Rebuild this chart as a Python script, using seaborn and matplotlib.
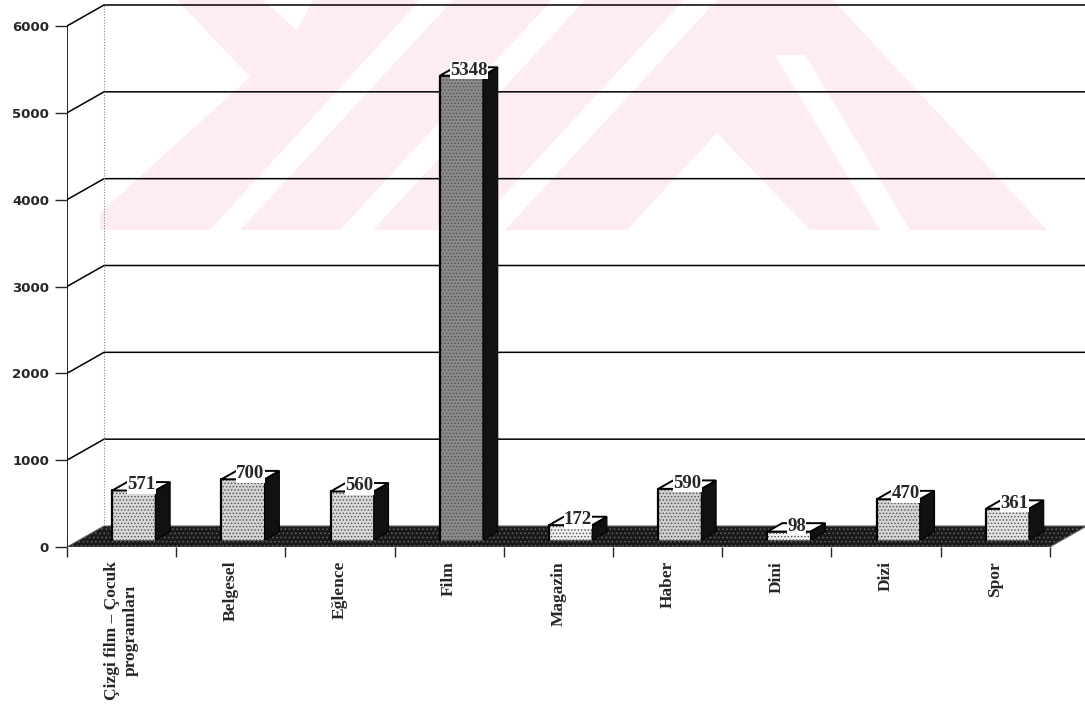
import numpy as np
import pandas as pd
import matplotlib
matplotlib.use('Agg')
import matplotlib.pyplot as plt
import seaborn as sns
from matplotlib.patches import Polygon

# data
categories = ['Çizgi film – Çocuk\nprogramları', 'Belgesel', 'Eğlence', 'Film',
              'Magazin', 'Haber', 'Dini', 'Dizi', 'Spor']
counts = [571, 700, 560, 5348, 172, 590, 98, 470, 361]
yticks = [0, 1000, 2000, 3000, 4000, 5000, 6000]
front_colors = ['#d8d8d8', '#d2d2d2', '#d8d8d8', '#8a8a8a', '#eeeeee',
                '#cecece', '#f2f2f2', '#d4d4d4', '#e2e2e2']

W, H = 1085, 709
sns.set_style('white')
plt.rcParams['hatch.linewidth'] = 0.6

fig = plt.figure(figsize=(W / 100, H / 100), dpi=100)

# faint pink watermark of the scanned page (pixel coords)
def px(pts):
    return [(x / W, 1 - y / H) for x, y in pts]

fig.add_artist(Polygon(px([(100, 0), (833, 0), (1047, 230), (100, 230)]),
                       closed=True, transform=fig.transFigure,
                       fc='#fdedf0', ec='none', zorder=-2))
cutouts = [
    [(100, 0), (177, 0), (250, 77), (100, 213)],
    [(263, 0), (313, 0), (297, 30)],
    [(210, 230), (240, 230), (453, 0), (420, 0)],
    [(340, 230), (373, 230), (585, 0), (552, 0)],
    [(472, 230), (505, 230), (717, 0), (684, 0)],
    [(717, 133), (810, 230), (627, 230)],
    [(775, 55), (805, 55), (910, 230), (880, 230)],
]
for c in cutouts:
    fig.add_artist(Polygon(px(c), closed=True, transform=fig.transFigure,
                           fc='white', ec='none', zorder=-1))

ax = fig.add_axes([67 / W, 162 / H, (W - 67) / W, 547 / H])
ax.patch.set_visible(False)

# 3D look: depth offset of the back wall in data units
cat_px = 109.2
ypx = 521 / 6000
DX = 37 / cat_px
DY = 21 / ypx
t0 = 0.33   # front face depth
dd = 0.40   # bar depth
xmax = -0.5 + (W - 67) / cat_px

df = pd.DataFrame({'kategori': categories, 'sayi': counts})
sns.barplot(data=df, x='kategori', y='sayi', hue='kategori', palette=front_colors,
            legend=False, width=0.394, saturation=1, edgecolor='#505050',
            linewidth=0.6, ax=ax, zorder=5)
bars = sorted([p for c in ax.containers for p in c], key=lambda p: p.get_x())

# floor
ax.add_patch(Polygon([(-0.5, 0), (8.5, 0), (8.5 + DX, DY), (-0.5 + DX, DY)],
                     closed=True, fc='#1a1a1a', ec='#666666', hatch='....',
                     lw=0.8, zorder=2))

# walls and grid
for v in yticks[1:]:
    ax.plot([-0.5, -0.5 + DX, xmax], [v, v + DY, v + DY], color='black', lw=1.1, zorder=1)
ax.plot([-0.5, -0.5], [0, 6000], color='black', lw=1.2, zorder=3)
ax.plot([-0.5 + DX] * 2, [DY, 6000 + DY], color='#888888', lw=0.8,
        ls=(0, (1, 1.5)), zorder=1)
ax.plot([-0.5, 8.5], [0, 0], color='black', lw=1.0, zorder=3)

for p, v in zip(bars, counts):
    x0 = p.get_x() + t0 * DX
    w = p.get_width()
    y0 = t0 * DY
    p.set_x(x0)
    p.set_y(y0)
    p.set_hatch('.....')
    p.set_zorder(5)
    x1 = x0 + w
    y1 = y0 + p.get_height()
    ox, oy = dd * DX, dd * DY
    ax.add_patch(Polygon([(x1, y0), (x1 + ox, y0 + oy), (x1 + ox, y1 + oy), (x1, y1)],
                         closed=True, fc='#111111', ec='black', lw=0.8, zorder=5))
    ax.add_patch(Polygon([(x0, y1), (x1, y1), (x1 + ox, y1 + oy), (x0 + ox, y1 + oy)],
                         closed=True, fc='white', ec='black', lw=1.4, zorder=6))
    ax.plot([x0, x0], [y0, y1], color='black', lw=1.6, zorder=6)
    ax.text(x0 + w / 2 + ox / 2, y1 + oy / 2 + 15, str(v), ha='center', va='center',
            fontsize=13.5, fontweight='bold', family='Liberation Serif', zorder=8,
            bbox=dict(fc='white', ec='none', pad=0.3))

ax.set_xlim(-0.5, xmax)
ax.set_ylim(0, 547 / ypx)
for s in ax.spines.values():
    s.set_visible(False)

ax.set_yticks(yticks)
ax.set_yticklabels([str(t) for t in yticks], fontsize=9.5, fontweight='bold',
                   family='DejaVu Sans')
ax.tick_params(axis='y', left=True, direction='out', length=9, width=1, pad=4)

ax.set_xticks(range(len(categories)))
ax.set_xticklabels(categories, rotation=90, fontsize=12.5, fontweight='bold',
                   family='Liberation Serif', va='top', ha='center',
                   multialignment='center')
ax.set_xticks(np.arange(-0.5, len(categories), 1), minor=True)
ax.tick_params(axis='x', which='major', bottom=True, length=0, pad=10)
ax.tick_params(axis='x', which='minor', bottom=True, direction='out', length=7, width=1)
ax.set_xlabel('')
ax.set_ylabel('')

fig.savefig('out.png', dpi=100)
